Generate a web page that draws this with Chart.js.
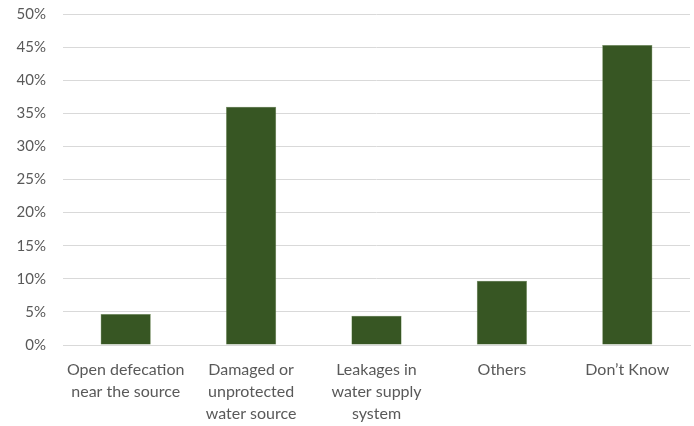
<!DOCTYPE html>
<html>
<head>
<meta charset="utf-8">
<script src="https://cdn.jsdelivr.net/npm/chart.js@4"></script>
<style>
  html, body { margin: 0; padding: 0; background: #fff; }
  #wrap { width: 694px; height: 426px; }
</style>
</head>
<body>
<div id="wrap"><canvas id="c" width="694" height="426"></canvas></div>
<script>
const categories = [
  ["Open defecation", "near the source"],
  ["Damaged or", "unprotected", "water source"],
  ["Leakages in", "water supply", "system"],
  ["Others"],
  ["Don\u2019t Know"]
];
const shares = [4.7, 36.0, 4.4, 9.7, 45.3];
const yTicks = [0, 5, 10, 15, 20, 25, 30, 35, 40, 45, 50];

Chart.defaults.font.family = "Lato, 'Open Sans', sans-serif";
Chart.defaults.color = "#595959";

new Chart(document.getElementById("c"), {
  type: "bar",
  data: {
    labels: categories,
    datasets: [{
      data: shares,
      backgroundColor: "#375623",
      borderColor: "#6b8a55",
      borderWidth: 0.5,
      categoryPercentage: 1,
      barPercentage: 0.4
    }]
  },
  options: {
    responsive: false,
    animation: false,
    layout: { padding: { top: 14, right: 4, left: 0, bottom: 0 } },
    plugins: { legend: { display: false }, tooltip: { enabled: false } },
    scales: {
      x: {
        grid: { display: false },
        border: { color: "#d9d9d9", width: 1 },
        ticks: { maxRotation: 0, autoSkip: false, padding: 6, font: { size: 16, lineHeight: 1.38 } },
        afterFit: (axis) => {
          axis.height = 81;
          axis.paddingLeft = 0;
          axis.paddingRight = 0;
        }
      },
      y: {
        min: 0, max: 50,
        afterBuildTicks: (axis) => { axis.ticks = yTicks.map(v => ({ value: v })); },
        grid: { color: "#d9d9d9", lineWidth: 1, drawTicks: false },
        border: { display: false },
        ticks: { padding: 17, callback: v => v + "%", font: { size: 15 } },
        afterFit: (axis) => {
          axis.width = 63;
          axis.paddingTop = 0;
          axis.paddingBottom = 0;
        }
      }
    }
  }
});
</script>
</body>
</html>
